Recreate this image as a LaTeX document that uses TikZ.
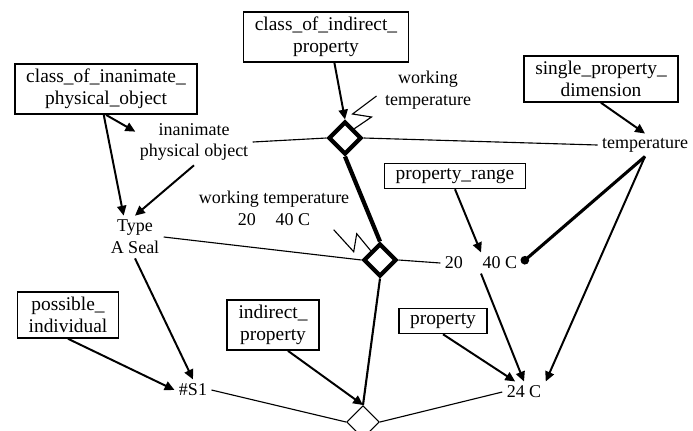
\documentclass[tikz,border=0pt]{standalone}
\usepackage{fontspec}
\setmainfont{Liberation Serif}
\usetikzlibrary{arrows.meta,shapes.geometric,calc}

\begin{document}
\begin{tikzpicture}[x=0.025cm,y=-0.025cm,
    caixa/.style={draw,line width=1.1pt,align=center,inner xsep=8pt,inner ysep=3.5pt,
                  font=\fontsize{13.8}{16}\selectfont},
    rotulo/.style={align=center,inner sep=3pt,font=\fontsize{12.8}{15.5}\selectfont},
    losango/.style={draw,diamond,aspect=1,inner sep=0pt,minimum size=0.82cm,line width=3pt},
    seta/.style={-{Triangle[length=7pt,width=6.5pt]},line width=1.4pt},
    liga/.style={line width=0.8pt}]
  \useasboundingbox (0,0) rectangle (693,430);

  % Caixas
  \node[caixa] (cip)  at (326,37)  {class\_of\_indirect\_\\property};
  \node[caixa] (cipo) at (106,89)  {class\_of\_inanimate\_\\physical\_object};
  \node[caixa] (spd)  at (601,79)  {single\_property\_\\dimension};
  \node[caixa] (prb)  at (455,176) {property\_range};
  \node[caixa] (pin)  at (68,315)  {possible\_\\individual};
  \node[caixa] (ipr)  at (273,325) {indirect\_\\property};
  \node[caixa] (prp)  at (443,321) {property};

  % Rotulos
  \node[rotulo] (ipo)   at (194,142) {inanimate\\physical object};
  \node[rotulo] (wt)    at (428,90)  {working\\temperature};
  \node[rotulo] (temp)  at (645,145) {temperature};
  \node[rotulo] (wtr)   at (274,208) {working temperature\\20\hspace{1.1em}40 C};
  \node[rotulo] (typeA) at (135,237) {Type\\A Seal};
  \node[rotulo] (range) at (481,263) {20\hspace{1.1em}40 C};
  \node[rotulo] (s1)    at (193,390) {\#S1};
  \node[rotulo] (c24)   at (524,392) {24 C};

  % Losangos
  \node[losango] (d1) at (345,138) {};
  \node[losango] (d2) at (380,260) {};
  \node[losango,line width=0.8pt] (d3) at (363,422) {};

  % Ligacoes
  \draw[liga] (d1.west) -- (ipo.east);
  \draw[liga] (d1.east) -- (temp.west);
  \draw[liga] (d2.west) -- (typeA.east);
  \draw[liga] (d2.east) -- (range.west);
  \draw[liga] (d3.west) -- (s1.east);
  \draw[liga] (d3.east) -- (c24.west);
  \draw[line width=3pt] (d1.south) -- (d2.north);
  \draw[line width=1.5pt] (d2.south) -- (d3.north);

  % Raios
  \draw[liga] ($(wt.west)+(-4,6)$) -- ++(-24,18) -- ++(19,3) -- (d1.north east);
  \draw[liga] (wtr.-20) -- ++(20,22) -- ++(3,-18) -- (d2.north west);

  % Setas
  \draw[seta] (cip.-72) -- (d1.north);
  \draw[seta] (ipr.-60) -- (d3.north);
  \draw[seta] (cipo.south) -- (ipo.170);
  \draw[seta] (cipo.-95) -- (typeA.118);
  \draw[seta] (ipo.south) -- (typeA.north);
  \draw[seta] (typeA.south) -- (s1.north);
  \draw[seta] (pin.south) -- (s1.west);
  \draw[seta] (spd.south) -- (temp.north);
  \draw[-{Circle[length=6pt]},line width=2.2pt] (temp.south) -- (range.east);
  \draw[seta] (temp.south) -- (c24.north east);
  \draw[seta] (prb.south) -- (range.north);
  \draw[seta] (range.south) -- (c24.north);
  \draw[seta] (prp.south) -- (c24.130);
\end{tikzpicture}
\end{document}
